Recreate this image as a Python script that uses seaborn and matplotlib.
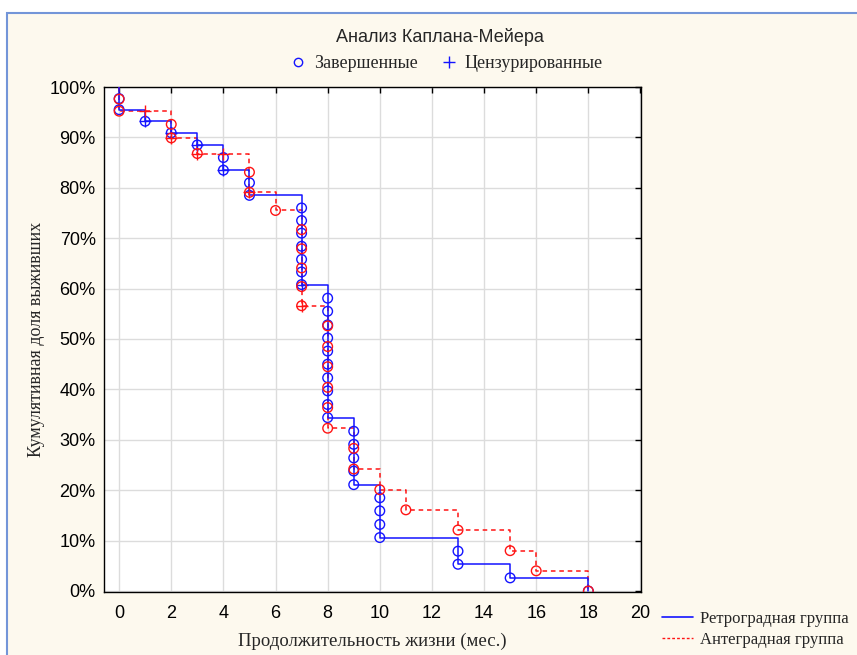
import matplotlib
matplotlib.use("Agg")
import matplotlib.pyplot as plt
import matplotlib.patches as patches
from matplotlib.lines import Line2D
from matplotlib.ticker import PercentFormatter, MultipleLocator
import seaborn as sns

# Kaplan-Meier step curves (time in months, cumulative survival in %)
retro_t = [0, 0, 1, 2, 3, 4, 5, 7, 8, 9, 10, 13, 15, 18]
retro_s = [100, 95.5, 93.2, 90.9, 88.5, 83.5, 78.5, 60.8, 34.4, 21.1, 10.6, 5.3, 2.6, 0]
ante_t = [0, 0, 2, 3, 5, 6, 7, 8, 9, 10, 11, 13, 15, 16, 18]
ante_s = [100, 95.2, 89.9, 86.8, 79.1, 75.5, 56.6, 32.3, 24.2, 20.1, 16.1, 12.1, 8.0, 4.0, 0]

# completed observations (circles)
retro_done_t = [0, 0, 1, 2, 3, 4, 4, 5, 5,
                7, 7, 7, 7, 7, 7, 7,
                8, 8, 8, 8, 8, 8, 8, 8, 8, 8,
                9, 9, 9, 9, 9, 10, 10, 10, 10, 13, 13, 15, 18]
retro_done_s = [97.7, 95.5, 93.2, 90.9, 88.5, 86.0, 83.5, 81.0, 78.5,
                76.0, 73.5, 71.0, 68.4, 65.8, 63.3, 60.8,
                58.1, 55.5, 52.8, 50.2, 47.6, 45.0, 42.3, 39.7, 37.0, 34.4,
                31.7, 29.1, 26.4, 23.8, 21.1, 18.5, 15.9, 13.2, 10.6, 7.9, 5.3, 2.6, 0]
ante_done_t = [0, 0, 2, 2, 3, 5, 5, 6,
               7, 7, 7, 7, 7,
               8, 8, 8, 8, 8, 8, 9, 9, 10, 11, 13, 15, 16, 18]
ante_done_s = [97.6, 95.2, 92.6, 89.9, 86.8, 83.1, 79.1, 75.5,
               71.7, 67.9, 64.1, 60.4, 56.6,
               52.6, 48.5, 44.5, 40.4, 36.4, 32.3, 28.3, 24.2, 20.1, 16.1, 12.1, 8.0, 4.0, 0]

# censored observations (plus signs)
retro_cens_t = [1, 2, 3, 4, 7]
retro_cens_s = [93.2, 90.9, 88.5, 83.5, 60.8]
ante_cens_t = [1, 2, 3, 4, 5, 7]
ante_cens_s = [95.2, 89.9, 86.8, 86.8, 79.1, 56.6]

BLUE = "#1414FF"
RED = "#FF1414"
CREAM = "#FDF9EE"

sns.set_style("whitegrid")
plt.rcParams["font.family"] = ["Liberation Sans", "DejaVu Sans"]
serif = ["Liberation Serif", "DejaVu Serif"]

fig = plt.figure(figsize=(8.57, 6.55), dpi=100, facecolor="white")
fig.add_artist(patches.Rectangle((7 / 857, -0.02), 1.0, 1 - 13 / 655 + 0.02,
                                 transform=fig.transFigure, facecolor=CREAM,
                                 edgecolor="#7395D8", linewidth=1.5, zorder=0))

ax = fig.add_axes([104 / 857, 1 - 592 / 655, 537 / 857, 505 / 655])
ax.set_facecolor("white")

sns.lineplot(x=ante_t, y=ante_s, drawstyle="steps-post", estimator=None, sort=False,
             color=RED, linewidth=1.1, linestyle=(0, (3, 2.5)), ax=ax, zorder=3)
sns.lineplot(x=retro_t, y=retro_s, drawstyle="steps-post", estimator=None, sort=False,
             color=BLUE, linewidth=1.1, ax=ax, zorder=4)

sns.scatterplot(x=retro_done_t, y=retro_done_s, marker="o", s=48, facecolor="none",
                edgecolor=BLUE, linewidth=1.0, ax=ax, zorder=5)
sns.scatterplot(x=ante_done_t, y=ante_done_s, marker="o", s=48, facecolor="none",
                edgecolor=RED, linewidth=1.0, ax=ax, zorder=6)
sns.scatterplot(x=retro_cens_t, y=retro_cens_s, marker="+", s=70, color=BLUE,
                linewidth=1.0, ax=ax, zorder=5)
sns.scatterplot(x=ante_cens_t, y=ante_cens_s, marker="+", s=70, color=RED,
                linewidth=1.0, ax=ax, zorder=6)

ax.set_xlim(-0.58, 20.02)
ax.set_ylim(-0.2, 100)
ax.xaxis.set_major_locator(MultipleLocator(2))
ax.yaxis.set_major_locator(MultipleLocator(10))
ax.yaxis.set_major_formatter(PercentFormatter(xmax=100, decimals=0))
ax.grid(True, color="#DCDCDC", linewidth=1.0)
for sp in ax.spines.values():
    sp.set_color("black")
    sp.set_linewidth(1.0)
ax.tick_params(direction="in", length=4, width=1, colors="black", labelsize=13,
               top=True, right=True, pad=6)
ax.tick_params(axis="x", pad=9)

ax.set_xlabel("Продолжительность жизни (мес.)", fontsize=13.5, family=serif, labelpad=8)
ax.set_ylabel("Кумулятивная доля выживших", fontsize=13, family=serif, labelpad=3)

fig.text(440 / 857, 1 - 37 / 655, "Анализ Каплана-Мейера", ha="center", va="center",
         fontsize=13, family=["Liberation Sans Narrow", "Liberation Sans"])

top_handles = [
    Line2D([], [], linestyle="none", marker="o", markersize=6, markerfacecolor="none",
           markeredgecolor=BLUE, label="Завершенные"),
    Line2D([], [], linestyle="none", marker="+", markersize=8, color=BLUE,
           label="Цензурированные"),
]
fig.legend(handles=top_handles, loc="center", bbox_to_anchor=(446 / 857, 1 - 64 / 655),
           ncol=2, frameon=False, prop={"family": serif, "size": 13},
           handlelength=1.0, handletextpad=0.4, columnspacing=1.2)

side_handles = [
    Line2D([], [], color=BLUE, linewidth=1.2, label="Ретроградная группа"),
    Line2D([], [], color=RED, linewidth=1.0, linestyle=(0, (2, 1.5)),
           label="Антеградная группа"),
]
fig.legend(handles=side_handles, loc="upper left", bbox_to_anchor=(660 / 857, 1 - 609 / 655),
           frameon=False, prop={"family": serif, "size": 12},
           handlelength=1.9, handletextpad=0.4, labelspacing=0.3, borderaxespad=0,
           borderpad=0.1)

fig.savefig("out.png", dpi=100, facecolor=fig.get_facecolor())
